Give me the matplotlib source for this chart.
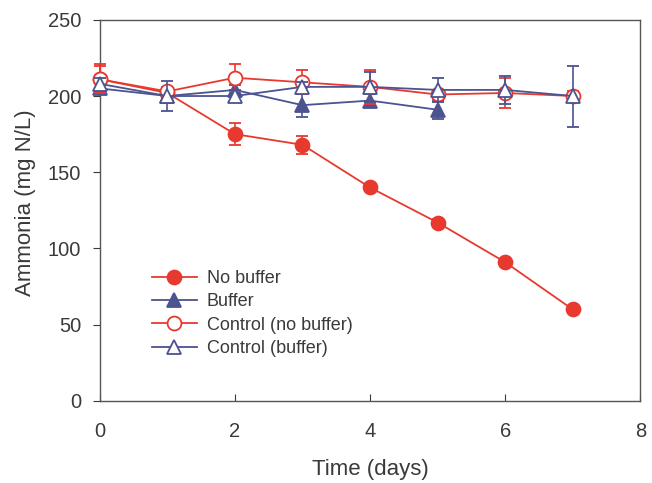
import matplotlib
matplotlib.use("Agg")
import matplotlib.pyplot as plt
from matplotlib.lines import Line2D

plt.rcParams['font.family'] = ['Liberation Sans', 'DejaVu Sans']

days = [0, 1, 2, 3, 4, 5, 6, 7]
days_buf = [0, 1, 2, 3, 4, 5]

no_buffer = [211, 202, 175, 168, 140, 117, 91, 60]
no_buffer_err = [10, 3, 7, 6, 2, 2, 2, 2]

buffer = [205, 200, 204, 194, 197, 191]
buffer_err = [4, 4, 3, 8, 4, 6]

ctrl_no_buffer = [211, 203, 212, 209, 206, 201, 202, 200]
ctrl_no_buffer_err = [9, 3, 9, 8, 11, 3, 10, 3]

ctrl_buffer = [208, 200, 200, 206, 206, 204, 204, 200]
ctrl_buffer_err = [4, 10, 4, 3, 10, 8, 9, 20]

labels = ['No buffer', 'Buffer', 'Control (no buffer)', 'Control (buffer)']

red = '#e8392f'
blue = '#4b5391'
txt = '#3a3a3a'

fig = plt.figure(figsize=(6.52, 4.83), dpi=100)
ax = fig.add_axes([0.153, 0.17, 0.829, 0.789])

kw = dict(capsize=4, elinewidth=1.2, capthick=1.2, lw=1.3, markersize=10)
styles = [
    (days, no_buffer, no_buffer_err, red, 'o', red, 3),
    (days_buf, buffer, buffer_err, blue, '^', blue, 3),
    (days, ctrl_no_buffer, ctrl_no_buffer_err, red, 'o', 'white', 4),
    (days, ctrl_buffer, ctrl_buffer_err, blue, '^', 'white', 5),
]
handles = []
for (x, y, e, c, m, fc, z), lab in zip(styles, labels):
    cont = ax.errorbar(x, y, yerr=e, color=c, marker=m, mfc=fc, mec=c, mew=1.3,
                       zorder=z, **kw)
    for a in cont.get_children():
        a.set_clip_on(False)
    handles.append(Line2D([], [], color=c, marker=m, mfc=fc, mec=c, mew=1.3,
                          lw=1.3, markersize=10))

ax.set_xlim(0, 8)
ax.set_ylim(0, 250)
ax.set_xticks([0, 2, 4, 6, 8])
ax.set_yticks([0, 50, 100, 150, 200, 250])
ax.tick_params(axis='x', direction='in', labelsize=14.5, colors=txt, pad=15.5, length=5)
ax.tick_params(axis='y', direction='out', labelsize=14.5, colors=txt, length=5, pad=8.5)
for s in ax.spines.values():
    s.set_color('#555555')
    s.set_linewidth(1.0)

ax.set_xlabel('Time (days)', fontsize=16, color=txt, labelpad=13)
ax.set_ylabel('Ammonia (mg N/L)', fontsize=16, color=txt, labelpad=8)
ax.yaxis.set_label_coords(-0.118, 0.52)

ax.legend(handles, labels, loc='upper left', bbox_to_anchor=(0.096, 0.343),
          frameon=False, fontsize=13, handlelength=2.5, labelspacing=0.35,
          handletextpad=0.55, borderpad=0, borderaxespad=0, labelcolor=txt)

fig.savefig('out.png', dpi=100)
